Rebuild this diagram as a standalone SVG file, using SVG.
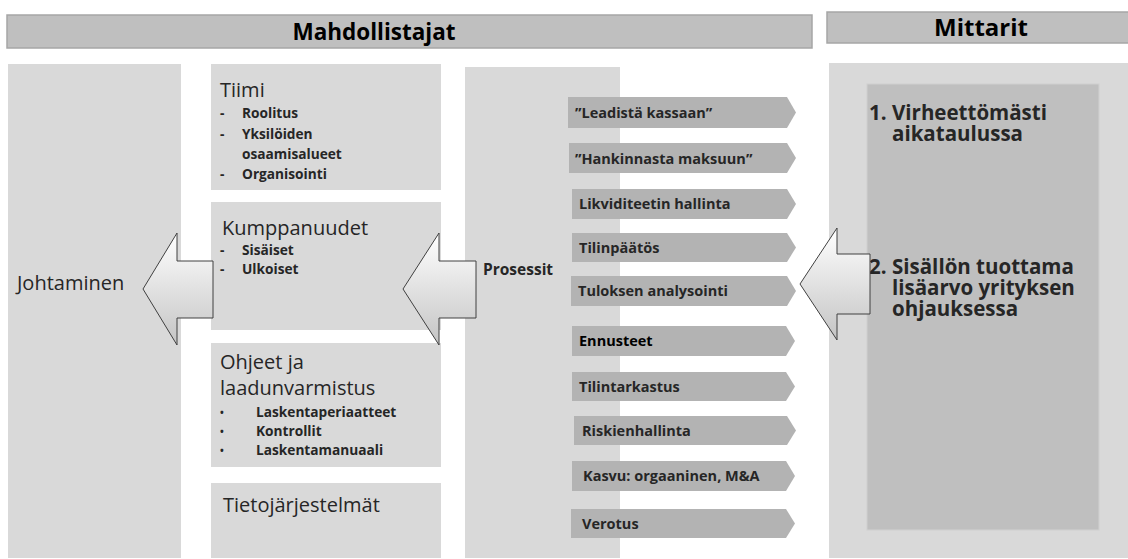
<svg xmlns="http://www.w3.org/2000/svg" width="1128" height="559" viewBox="0 0 1128 559">
<defs>
<style>
.box{fill:#d9d9d9;}
.inner{fill:#bfbfbf;stroke:#d0d0d0;stroke-width:1}
.hdr{fill:#bfbfbf;stroke:#a6a6a6;stroke-width:1.5}
.chev{fill:#b3b3b3;}
.arrow{fill:url(#ag);stroke:#404040;stroke-width:1}
text{font-family:"Open Sans",Lato,"Liberation Sans",sans-serif;fill:#262626}
.h{font-size:22.5px;font-weight:bold;fill:#000}
.t{font-size:20px}
.s{font-size:13.7px;font-weight:bold}
.b{font-size:10px;font-weight:bold}
.c{font-size:14.5px;font-weight:bold}
.p{font-size:15.5px;font-weight:bold}
.m{font-size:20.5px;font-weight:bold}
</style>
<linearGradient id="ag" x1="0" y1="0" x2="0" y2="1">
<stop offset="0" stop-color="#ffffff"/>
<stop offset="1" stop-color="#c4c4c4"/>
</linearGradient>
</defs>
<g id="header-mahdollistajat">
<rect class="hdr" x="7" y="15" width="805" height="33"/>
<text class="h" x="374" y="40" text-anchor="middle">Mahdollistajat</text>
</g>
<g id="header-mittarit">
<rect class="hdr" x="827" y="12" width="302" height="31"/>
<text class="h" x="981" y="36" text-anchor="middle" style="font-size:24px">Mittarit</text>
</g>
<g id="johtaminen">
<rect class="box" x="8" y="64" width="173" height="494"/>
<text class="t" x="17" y="290">Johtaminen</text>
</g>
<g id="tiimi">
<rect class="box" x="211" y="64" width="230" height="126"/>
<text class="t" x="220" y="97">Tiimi</text>
<text class="s"><tspan x="220" y="118">-</tspan><tspan x="242" y="118">Roolitus</tspan><tspan x="220" y="139">-</tspan><tspan x="242" y="139">Yksilöiden</tspan><tspan x="242" y="159">osaamisalueet</tspan><tspan x="220" y="179">-</tspan><tspan x="242" y="179">Organisointi</tspan></text>
</g>
<g id="kumppanuudet">
<rect class="box" x="211" y="202" width="230" height="128"/>
<text class="t" x="222" y="235">Kumppanuudet</text>
<text class="s"><tspan x="220" y="255">-</tspan><tspan x="242" y="255">Sisäiset</tspan><tspan x="220" y="274">-</tspan><tspan x="242" y="274">Ulkoiset</tspan></text>
</g>
<g id="ohjeet">
<rect class="box" x="211" y="343" width="230" height="124"/>
<text class="t"><tspan x="220" y="369">Ohjeet ja</tspan><tspan x="220" y="395">laadunvarmistus</tspan></text>
<text class="s"><tspan class="b" x="220" y="416">•</tspan><tspan x="256" y="417">Laskentaperiaatteet</tspan><tspan class="b" x="220" y="435">•</tspan><tspan x="256" y="436">Kontrollit</tspan><tspan class="b" x="220" y="454">•</tspan><tspan x="256" y="455">Laskentamanuaali</tspan></text>
</g>
<g id="tietojarjestelmat">
<rect class="box" x="211" y="483" width="230" height="75"/>
<text class="t" x="223" y="512">Tietojärjestelmät</text>
</g>
<g id="prosessit">
<rect class="box" x="465" y="67" width="155" height="491"/>
<text class="p" x="483" y="275">Prosessit</text>
</g>
<g id="process-steps">
<polygon class="chev" points="568,97 787,97 796,112.5 787,128 568,128"/>
<text class="c" x="575" y="118">”Leadistä kassaan”</text>
<polygon class="chev" points="569,143 787,143 796,158 787,173 569,173"/>
<text class="c" x="575" y="164">”Hankinnasta maksuun”</text>
<polygon class="chev" points="572,189 787,189 796,204 787,219 572,219"/>
<text class="c" x="579" y="209">Likviditeetin hallinta</text>
<polygon class="chev" points="572,233 787,233 796,247.5 787,262 572,262"/>
<text class="c" x="579" y="253">Tilinpäätös</text>
<polygon class="chev" points="571,276 787,276 796,291 787,306 571,306"/>
<text class="c" x="578" y="296">Tuloksen analysointi</text>
<polygon class="chev" points="572,326 786,326 795,341 786,356 572,356"/>
<text class="c" x="579" y="346" style="fill:#000">Ennusteet</text>
<polygon class="chev" points="572,372 786,372 795,386.5 786,401 572,401"/>
<text class="c" x="579" y="392">Tilintarkastus</text>
<polygon class="chev" points="574,416 787,416 796,430.5 787,445 574,445"/>
<text class="c" x="582" y="436">Riskienhallinta</text>
<polygon class="chev" points="572,461 786,461 795,476 786,491 572,491"/>
<text class="c" x="583" y="481">Kasvu: orgaaninen, M&amp;A</text>
<polygon class="chev" points="571,509 786,509 795,523.5 786,538 571,538"/>
<text class="c" x="582" y="529">Verotus</text>
</g>
<g id="mittarit">
<rect class="box" x="829" y="63" width="299" height="495"/>
<rect class="inner" x="867" y="84" width="232" height="446"/>
<text class="m"><tspan x="869" y="120">1.</tspan><tspan x="892" y="120">Virheettömästi</tspan><tspan x="892" y="141">aikataulussa</tspan></text>
<text class="m"><tspan x="869" y="274">2.</tspan><tspan x="892" y="274">Sisällön tuottama</tspan><tspan x="892" y="295">lisäarvo yrityksen</tspan><tspan x="892" y="316">ohjauksessa</tspan></text>
</g>
<g id="connectors">
<polygon class="arrow" points="143,289 177,233 177,261 213,261 213,318 177,318 177,345"/>
<polygon class="arrow" points="403,289 439,233 439,261 476,261 476,318 439,318 439,345"/>
<polygon class="arrow" points="800,284 837,228 837,254 870,254 870,314 837,314 837,340"/>
</g>
</svg>
